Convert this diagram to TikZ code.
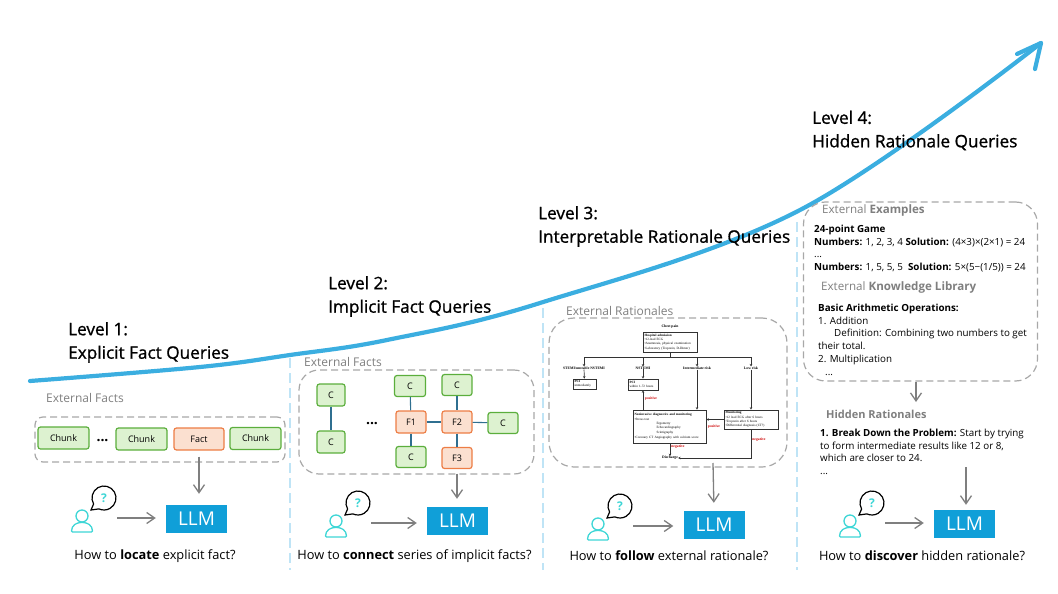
\documentclass[tikz,border=0pt]{standalone}
\usepackage{fontspec}
\setmainfont{Open Sans}
\newfontfamily\titlefont[FakeBold=1]{Open Sans}
\newfontfamily\flowfont{Liberation Serif}
\usetikzlibrary{arrows.meta}
\definecolor{curveblue}{HTML}{3BAEE0}
\definecolor{llmblue}{HTML}{109FD8}
\definecolor{sepblue}{HTML}{BFE4F6}
\definecolor{dashgray}{HTML}{A8A8A8}
\definecolor{arrowgray}{HTML}{7F7F7F}
\definecolor{labelgray}{HTML}{7F7F7F}
\definecolor{chunkfill}{HTML}{DDF2D0}
\definecolor{chunkline}{HTML}{5BAE3C}
\definecolor{factfill}{HTML}{FBE0D0}
\definecolor{factline}{HTML}{ED7D45}
\definecolor{linkblue}{HTML}{2F6F90}
\definecolor{askcyan}{HTML}{3ED6D6}
\tikzset{
  levellabel/.style={anchor=west, align=left, inner sep=0pt, font=\titlefont\fontsize{17.2}{23.5}\selectfont},
  dashbox/.style={draw=dashgray, line width=1.2pt, dash pattern=on 7pt off 4pt},
  graylabel/.style={anchor=west, inner sep=0pt, text=labelgray, font=\fontsize{12}{14}\selectfont},
  chunk/.style={draw=chunkline, fill=chunkfill, line width=1.2pt, rounded corners=2.5pt, inner sep=0pt, font=\fontsize{9}{11}\selectfont},
  fact/.style={chunk, draw=factline, fill=factfill},
  link/.style={draw=linkblue, line width=1.1pt},
  flow/.style={-{Straight Barb[length=8pt,width=11pt]}, draw=arrowgray, line width=1.3pt},
  llm/.style={fill=llmblue, text=white, minimum width=61pt, minimum height=28pt, inner sep=0pt, font=\fontsize{19}{20}\selectfont},
  usernode/.style={minimum width=70pt, minimum height=10pt, inner sep=0pt},
  question/.style={font=\fontsize{12.8}{15}\selectfont},
  paneltext/.style={anchor=north west, align=left, inner sep=0pt, font=\fontsize{9.8}{12.9}\selectfont},
  threedots/.style={inner sep=0pt, font=\bfseries\fontsize{14}{14}\selectfont},
  fc/.style={inner sep=0pt, align=left, font=\flowfont\fontsize{3.7}{4.5}\selectfont},
  fcbox/.style={fc, draw=black!80, line width=0.7pt, inner xsep=1.5pt, font=\flowfont\fontsize{3.3}{4.4}\selectfont},
  fcred/.style={fc, text=red!80!black, font=\flowfont\bfseries\fontsize{3.7}{4.5}\selectfont},
  fcline/.style={-{Stealth[length=2.5pt,width=2.5pt]}, draw=black!80, line width=0.7pt},
  asker/.pic={
    \draw[askcyan, line width=1.3pt] (0,-2) circle (6);
    \draw[askcyan, line width=1.3pt, rounded corners=1pt] (-10.5,14) .. controls (-10.5,7) and (-5,4.5) .. (0,4.5) .. controls (5,4.5) and (10.5,7) .. (10.5,14) -- cycle;
    \draw[black, line width=1.2pt, fill=white] (11.6,-14) arc (150:475:12) -- (9,-8) -- cycle;
    \node[text=askcyan, inner sep=0pt, font=\bfseries\fontsize{12}{12}\selectfont] at (22,-20) {?};
  }
}
\begin{document}
\begin{tikzpicture}[x=1pt, y=-1pt]
\useasboundingbox (0,0) rectangle (1058,594);
% rising curve
\draw[curveblue, line width=4.2pt, line cap=round] plot[smooth, tension=0.6] coordinates {(30,381) (200,367) (290,355) (387,340) (540,303) (800,210) (1041,43)};
\draw[curveblue, line width=4.2pt, line cap=round, line join=round] (1017,54) -- (1041,43) -- (1035,69);
% separators
\foreach \sx/\sy in {290/358, 543/308, 797/222}
  \draw[sepblue, line width=2pt, dash pattern=on 10pt off 5pt] (\sx,\sy) -- (\sx,570);
% level titles
\node[levellabel] (level1) at (68,342.5) {Level 1:\\Explicit Fact Queries};
\node[levellabel] (level2) at (328,296.5) {Level 2:\\Implicit Fact Queries};
\node[levellabel] (level3) at (538,226.5) {Level 3:\\Interpretable Rationale Queries};
\node[levellabel] (level4) at (812,130.5) {Level 4:\\Hidden Rationale Queries};
% bottom row of each panel
\foreach \n/\ux/\uy/\lx/\ly/\qx/\q in {
  1/82/518/196.5/519/155/{How to \textbf{locate} explicit fact?},
  2/336/523/457.5/520.5/414.5/{How to \textbf{connect} series of implicit facts?},
  3/598/526/714/525/669/{How to \textbf{follow} external rationale?},
  4/850/523/964.5/524/922/{How to \textbf{discover} hidden rationale?}} {
  \node[usernode] (user\n) at (\ux,\uy) {};
  \pic at (user\n) {asker};
  \node[llm] (llm\n) at (\lx,\ly) {LLM};
  \draw[flow, shorten >=10pt] (user\n.east) -- (user\n.east -| llm\n.west);
  \node[question] (question\n) at (\qx,556) {\q};
}
% panel 1
\node[graylabel] (ext1) at (46,398) {External Facts};
\node[dashbox, rounded corners=8pt, minimum width=250pt, minimum height=45pt] (box1) at (160,439.5) {};
\node[chunk, minimum width=51pt, minimum height=22pt] (chunka) at (63.5,438) {Chunk};
\node[threedots] (dots1) at (102.5,441) {...};
\node[chunk, minimum width=51pt, minimum height=22pt] (chunkb) at (141.5,439) {Chunk};
\node[fact, minimum width=50pt, minimum height=22pt] (fact1) at (199,439) {Fact};
\node[chunk, minimum width=51pt, minimum height=22pt] (chunkc) at (255.5,438.5) {Chunk};
\draw[flow, shorten <=6pt, shorten >=11pt] (fact1.south) -- (fact1.south |- llm1.north);
% panel 2
\node[graylabel] (ext2) at (304,362) {External Facts};
\node[dashbox, rounded corners=20pt, minimum width=235pt, minimum height=104pt] (box2) at (416.5,422) {};
\node[chunk, minimum width=28pt, minimum height=22pt] (ca) at (331,395) {C};
\node[chunk, minimum width=28pt, minimum height=22pt] (cb) at (331,442) {C};
\node[threedots] (dots2) at (372,424) {...};
\node[chunk, minimum width=31pt, minimum height=21pt] (cc) at (410,386) {C};
\node[chunk, minimum width=30pt, minimum height=21pt] (cd) at (457,385) {C};
\node[fact, minimum width=30pt, minimum height=22pt] (f1) at (411,422) {F1};
\node[fact, minimum width=30pt, minimum height=22pt] (f2) at (457,422) {F2};
\node[chunk, minimum width=30pt, minimum height=21pt] (ce) at (503,423) {C};
\node[chunk, minimum width=30pt, minimum height=21pt] (cf) at (411,457) {C};
\node[fact, minimum width=30pt, minimum height=21pt] (f3) at (457,458) {F3};
\draw[link] (ca) -- (cb);
\draw[link] (cc) -- (f1);
\draw[link] (f1) -- (cf);
\draw[link] (f1) -- (f2);
\draw[link] (cd) -- (f2);
\draw[link] (f2) -- (ce);
\draw[link] (f2) -- (f3);
\draw[flow, shorten <=4.5pt, shorten >=7.5pt] (f3.south) -- (f3.south |- llm2.north);
% panel 3
\node[graylabel] (ext3) at (566,311) {External Rationales};
\node[dashbox, rounded corners=25pt, minimum width=238pt, minimum height=149pt] (box3) at (668,392.5) {};
\node[fc, font=\flowfont\bfseries\fontsize{3.7}{4.5}\selectfont] (chest) at (670,327) {Chest pain};
\node[fcbox, text width=51pt, minimum height=20pt] (hospital) at (670,342) {\textbf{Hospital admission}\\•12-lead ECG\\•Anamnesis, physical examination\\•Laboratory (Troponin, D-Dimer)};
\coordinate (bar) at (670,357);
\node[fc] (stemi) at (584,368) {\textbf{STEMI/unstable NSTEMI}};
\node[fc] (nstemi) at (643,368) {\textbf{NSTEMI}};
\node[fc] (inter) at (697,368) {\textbf{Intermediate risk}};
\node[fc] (low) at (751,368) {\textbf{Low risk}};
\node[fcbox, text width=20pt, minimum height=10pt] (pcia) at (584.5,384) {\textbf{PCI}\\immediately};
\node[fcbox, text width=27pt, minimum height=11pt] (pcib) at (643,384.5) {\textbf{PCI}\\within 1-72 hours};
\node[fcbox, text width=70pt, minimum height=33pt] (noninv) at (669.5,426.5) {\textbf{Noninvasive diagnostics and monitoring}\\•Stress test\\\hspace*{22pt}Ergometry\\\hspace*{22pt}Echocardiography\\\hspace*{22pt}Scintigraphy\\[1pt]•Coronary CT Angiography with calcium score};
\node[fcbox, text width=51pt, minimum height=19pt] (monitor) at (751,419.5) {\textbf{Monitoring}\\•12 lead ECG after 6 hours\\•Troponin after 6 hours\\•Differential diagnosis (CT?)};
\node[fc] (discharge) at (670,458) {\textbf{Discharge}};
\draw[draw=black!80, line width=0.7pt] (hospital.south) -- (bar);
\draw[draw=black!80, line width=0.7pt] (stemi |- bar) -- (low |- bar);
\foreach \t in {stemi, nstemi, inter, low}
  \draw[fcline] (\t |- bar) -- (\t.north);
\draw[fcline] (stemi) -- (pcia);
\draw[fcline] (nstemi) -- (pcib);
\draw[fcline] (inter) -- (inter |- noninv.north);
\draw[fcline] (low) -- (monitor);
\draw[fcline] (pcib |- noninv.north) -- (pcib.south);
\draw[fcline] (monitor.west) -- (monitor.west -| noninv.east);
\draw[fcline] (noninv.south -| discharge) -- (discharge);
\draw[fcline] (monitor.south) |- (discharge.east);
\node[fcred] (posa) at (651,399) {positive};
\node[fcred] (posb) at (714,427) {positive};
\node[fcred] (nega) at (678,447) {negative};
\node[fcred] (negb) at (759,440) {negative};
\draw[flow, shorten >=8pt] (713,463) -- (llm3.north);
% panel 4
\node[dashbox, rounded corners=22pt, minimum width=234pt, minimum height=179pt] (box4) at (920.5,291.5) {};
\node[graylabel, font=\fontsize{11.6}{13}\selectfont] (ext4a) at (822,210) {External \textbf{Examples}};
\node[paneltext] (examples) at (814,224.5) {\textbf{24-point Game}\\\textbf{Numbers:} 1, 2, 3, 4 \textbf{Solution:} (4×3)×(2×1) = 24\\...\\\textbf{Numbers:} 1, 5, 5, 5 \ \textbf{Solution:} 5×(5−(1/5)) = 24};
\node[graylabel, font=\fontsize{11.6}{13}\selectfont] (ext4b) at (821,287) {External \textbf{Knowledge Library}};
\node[paneltext] (library) at (818,303.5) {\textbf{Basic Arithmetic Operations:}\\1. Addition\\\hspace*{16pt}Definition: Combining two numbers to get\\their total.\\2. Multiplication\\\hspace*{7pt}...};
\draw[flow] (box4.south -| 916,0) -- (916,402);
\node[graylabel, font=\bfseries\fontsize{11}{13}\selectfont] (hidden) at (826,414) {Hidden Rationales};
\node[paneltext] (breakdown) at (820,428.5) {\textbf{1. Break Down the Problem:} Start by trying\\to form intermediate results like 12 or 8,\\which are closer to 24.\\...};
\coordinate (hiddenend) at (966,467);
\draw[flow, shorten >=5pt] (hiddenend) -- (hiddenend |- llm4.north);
\end{tikzpicture}
\end{document}
